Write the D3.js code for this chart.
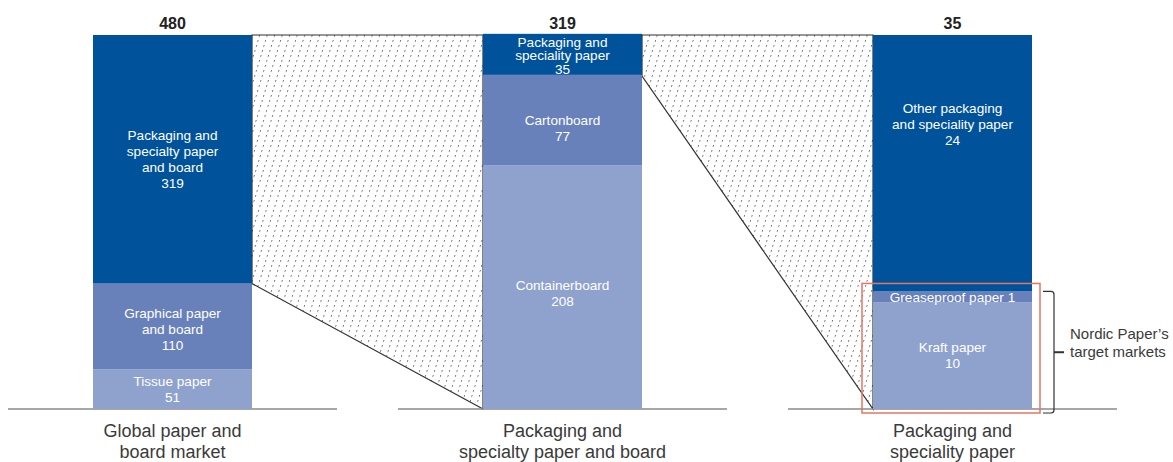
<!DOCTYPE html>
<html>
<head>
<meta charset="utf-8">
<script src="https://cdn.jsdelivr.net/npm/d3@7"></script>
<style>
  html, body { margin: 0; padding: 0; background: #fff; }
  svg { display: block; }
  text { font-family: "Liberation Sans", Arial, Helvetica, sans-serif; }
</style>
</head>
<body>
<svg id="chart" width="1173" height="462"></svg>
<script>
// ---- data ----
const categories = ["Global paper and board market", "Packaging and specialty paper and board", "Packaging and speciality paper"];
const categoryLines = [["Global paper and", "board market"], ["Packaging and", "specialty paper and board"], ["Packaging and", "speciality paper"]];
const totals = [480, 319, 35];

// segments bottom -> top
const bar1Names = ["Tissue paper", "Graphical paper and board", "Packaging and specialty paper and board"];
const bar1Values = [51, 110, 319];
const bar2Names = ["Containerboard", "Cartonboard", "Packaging and speciality paper"];
const bar2Values = [208, 77, 35];
const bar3Names = ["Kraft paper", "Greaseproof paper", "Other packaging and speciality paper"];
const bar3Values = [10, 1, 24];

const annotationLines = ["Nordic Paper\u2019s", "target markets"];

// ---- layout / style ----
const W = 1173, H = 462;
const baseY = 409, topY = 35;
const barW = 159;
const colors = ["#8fa2ce", "#6881bb", "#00529b"];
// label line breaks (layout)
const labelLines = [
  [["Tissue paper", "{v}"], ["Graphical paper", "and board", "{v}"], ["Packaging and", "specialty paper", "and board", "{v}"]],
  [["Containerboard", "{v}"], ["Cartonboard", "{v}"], ["Packaging and", "speciality paper", "{v}"]],
  [["Kraft paper", "{v}"], ["Greaseproof paper {v}"], ["Other packaging", "and speciality paper", "{v}"]]
];
const labelShift = [[0, 3, 0], [6, 8, 1], [0, 0, -39]];

const allNames = [bar1Names, bar2Names, bar3Names];
const allValues = [bar1Values, bar2Values, bar3Values];

const svg = d3.select("#chart");

const x = d3.scaleBand().domain(categories).range([8, 1117]).paddingInner(61 / 390);
const yScales = totals.map(t => d3.scaleLinear().domain([0, t]).range([baseY, topY]));

// hatch pattern
const defs = svg.append("defs");
const pat = defs.append("pattern")
  .attr("id", "hatch")
  .attr("patternUnits", "userSpaceOnUse")
  .attr("width", 7.5).attr("height", 5)
  .attr("patternTransform", "skewX(-17)");
pat.append("rect").attr("x", 0).attr("y", 0).attr("width", 0.9).attr("height", 1.8).attr("fill", "#666");

// bar geometry
const bars = categories.map((c, i) => {
  const cx = x(c) + x.bandwidth() / 2;
  return { cx, x0: cx - barW / 2, x1: cx + barW / 2 };
});

// connectors (hatched)
for (let i = 0; i < categories.length - 1; i++) {
  const vals = allValues[i];
  const topVal = vals[vals.length - 1];
  const y = yScales[i];
  const yn = yScales[i + 1];
  const pts = [
    [bars[i].x1, y(totals[i])],
    [bars[i + 1].x0, yn(totals[i + 1])],
    [bars[i + 1].x0, yn(0)],
    [bars[i].x1, y(totals[i] - topVal)]
  ];
  svg.append("path")
    .attr("d", d3.line()(pts) + "Z")
    .attr("fill", "url(#hatch)")
    .attr("stroke", "#333")
    .attr("stroke-width", 1.2);
}

// baselines
categories.forEach(c => {
  svg.append("line")
    .attr("x1", x(c)).attr("x2", x(c) + x.bandwidth())
    .attr("y1", baseY).attr("y2", baseY)
    .attr("stroke", "#8a8a8a").attr("stroke-width", 1.5);
});

// bars
categories.forEach((c, i) => {
  const y = yScales[i];
  const vals = allValues[i];
  let cum = 0;
  const g = svg.append("g");
  vals.forEach((v, j) => {
    const y0 = y(cum), y1 = y(cum + v);
    cum += v;
    g.append("rect")
      .attr("x", bars[i].x0).attr("width", barW)
      .attr("y", y1).attr("height", y0 - y1)
      .attr("fill", colors[j]);
    const lines = labelLines[i][j].map(s => s.replace("{v}", v));
    const h = y0 - y1;
    const lh = Math.min(16, (h - 1) / lines.length);
    const cy = (y0 + y1) / 2 + labelShift[i][j];
    const t = g.append("text")
      .attr("text-anchor", "middle")
      .attr("fill", "#fff")
      .attr("font-size", "13.6px");
    lines.forEach((ln, k) => {
      t.append("tspan")
        .attr("x", bars[i].cx)
        .attr("y", cy + (k - (lines.length - 1) / 2) * lh)
        .attr("dy", "0.36em")
        .text(ln);
    });
  });
  // total on top
  svg.append("text")
    .attr("x", bars[i].cx).attr("y", 29)
    .attr("text-anchor", "middle")
    .attr("font-size", "16px").attr("font-weight", "bold")
    .attr("fill", "#222")
    .text(totals[i]);
  // category label
  const ct = svg.append("text")
    .attr("text-anchor", "middle")
    .attr("font-size", "18px")
    .attr("fill", "#3a3a3a");
  categoryLines[i].forEach((ln, k) => {
    ct.append("tspan").attr("x", bars[i].cx).attr("y", 437 + k * 21).text(ln);
  });
});

// highlight box around target markets (kraft + greaseproof)
const y3 = yScales[2];
const targetTop = y3(bar3Values[0] + bar3Values[1]);
svg.append("rect")
  .attr("x", bars[2].x0 - 11).attr("y", targetTop - 8)
  .attr("width", barW + 19).attr("height", baseY + 4 - (targetTop - 8))
  .attr("fill", "none")
  .attr("stroke", "#e8735f").attr("stroke-width", 1.5);

// bracket
const bx = bars[2].x1 + 22;
const bTop = targetTop, bBot = baseY + 4, bMid = (bTop + bBot) / 2;
svg.append("path")
  .attr("d", `M${bx - 11},${bTop} L${bx - 3},${bTop} Q${bx},${bTop} ${bx},${bTop + 3} L${bx},${bBot - 3} Q${bx},${bBot} ${bx - 3},${bBot} L${bx - 11},${bBot}`)
  .attr("fill", "none").attr("stroke", "#333").attr("stroke-width", 1.2);
svg.append("line")
  .attr("x1", bx).attr("x2", bx + 10)
  .attr("y1", bMid).attr("y2", bMid)
  .attr("stroke", "#333").attr("stroke-width", 2);

const at = svg.append("text").attr("font-size", "15px").attr("fill", "#3a3a3a");
annotationLines.forEach((ln, k) => {
  at.append("tspan").attr("x", bx + 16).attr("y", 339 + k * 18).text(ln);
});
</script>
</body>
</html>
